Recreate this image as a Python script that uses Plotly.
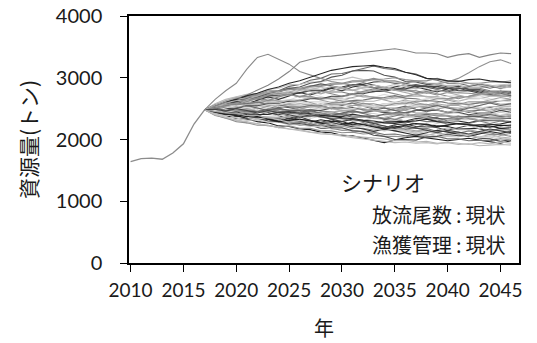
import plotly.graph_objects as go

# Observed stock biomass (tonnes), 2010-2017
hist_years = [2010, 2011, 2012, 2013, 2014, 2015, 2016, 2017]
hist_biomass = [1640, 1690, 1700, 1680, 1780, 1930, 2250, 2480]

# Projection years for the simulated runs
proj_years = list(range(2018, 2047))

# Simulated runs that drift downward
low_runs = [
    [2420, 2390, 2340, 2330, 2290, 2270, 2220, 2210, 2170, 2160, 2120, 2110, 2070, 2060, 2020, 1990, 1950, 1990, 2030, 2050, 2030, 2010, 1980, 2000, 2020, 1990, 1960, 1940, 1980],
    [2400, 2340, 2320, 2270, 2260, 2220, 2210, 2170, 2160, 2120, 2110, 2080, 2080, 2050, 2040, 2020, 2010, 1980, 1990, 1960, 1970, 1940, 1950, 1920, 1930, 1900, 1910, 1920, 1910],
    [2440, 2410, 2370, 2370, 2320, 2320, 2280, 2280, 2230, 2230, 2180, 2180, 2150, 2150, 2120, 2120, 2080, 2090, 2060, 2070, 2040, 2050, 2010, 2010, 1980, 1990, 1980, 2010, 1990],
    [2460, 2420, 2450, 2400, 2390, 2340, 2340, 2370, 2320, 2310, 2270, 2270, 2230, 2280, 2240, 2230, 2190, 2240, 2250, 2210, 2210, 2200, 2240, 2260, 2230, 2240, 2250, 2220, 2240],
    [2390, 2350, 2290, 2270, 2230, 2230, 2190, 2220, 2180, 2180, 2140, 2140, 2110, 2120, 2090, 2100, 2050, 2050, 2040, 2080, 2070, 2100, 2060, 2070, 2070, 2110, 2080, 2080, 2050],
    [2410, 2360, 2350, 2310, 2320, 2280, 2280, 2240, 2240, 2210, 2210, 2170, 2180, 2140, 2140, 2130, 2170, 2140, 2140, 2090, 2090, 2050, 2050, 2040, 2080, 2040, 2040, 2000, 2010],
    [2470, 2440, 2430, 2400, 2390, 2340, 2340, 2290, 2290, 2280, 2320, 2290, 2290, 2240, 2240, 2250, 2300, 2290, 2290, 2250, 2250, 2220, 2210, 2170, 2180, 2180, 2220, 2180, 2190],
    [2430, 2400, 2400, 2360, 2370, 2330, 2330, 2290, 2280, 2240, 2250, 2210, 2220, 2180, 2180, 2150, 2160, 2150, 2190, 2180, 2180, 2130, 2130, 2100, 2140, 2110, 2110, 2070, 2100],
    [2450, 2410, 2400, 2360, 2370, 2370, 2360, 2310, 2300, 2260, 2260, 2220, 2230, 2220, 2260, 2230, 2220, 2170, 2170, 2140, 2150, 2150, 2190, 2160, 2160, 2120, 2150, 2150, 2160],
    [2440, 2400, 2390, 2350, 2350, 2300, 2290, 2250, 2260, 2230, 2230, 2190, 2190, 2140, 2130, 2070, 2050, 2000, 2000, 1990, 2040, 2050, 2090, 2060, 2060, 2020, 2010, 1970, 2000],
]
low_colors = ["#1e1e1e", "#b4b4b4", "#707070", "#404040", "#909090",
              "#c8c8c8", "#222222", "#808080", "#a4a4a4", "#505050"]

# Simulated runs that stay near the current level
mid_runs = [
    [2500, 2530, 2530, 2530, 2490, 2490, 2460, 2460, 2450, 2490, 2460, 2450, 2410, 2440, 2440, 2470, 2430, 2420, 2380, 2410, 2410, 2420, 2380, 2380, 2370, 2410, 2380, 2380, 2360],
    [2520, 2570, 2580, 2610, 2610, 2610, 2560, 2560, 2520, 2520, 2490, 2500, 2460, 2460, 2420, 2420, 2390, 2430, 2440, 2480, 2470, 2470, 2430, 2430, 2390, 2400, 2400, 2440, 2410],
    [2480, 2480, 2450, 2450, 2410, 2410, 2400, 2440, 2410, 2400, 2360, 2370, 2370, 2410, 2380, 2380, 2330, 2330, 2300, 2340, 2340, 2350, 2300, 2300, 2270, 2310, 2310, 2310, 2280],
    [2540, 2580, 2550, 2590, 2590, 2630, 2630, 2620, 2570, 2570, 2530, 2560, 2560, 2600, 2560, 2550, 2510, 2510, 2480, 2520, 2520, 2560, 2520, 2510, 2470, 2480, 2480, 2520, 2490],
    [2460, 2430, 2460, 2460, 2460, 2420, 2420, 2380, 2380, 2370, 2410, 2410, 2420, 2380, 2380, 2340, 2340, 2330, 2370, 2370, 2410, 2380, 2380, 2340, 2380, 2380, 2410, 2370, 2380],
    [2510, 2540, 2500, 2500, 2460, 2460, 2420, 2430, 2390, 2390, 2360, 2360, 2330, 2340, 2310, 2350, 2360, 2400, 2370, 2370, 2330, 2330, 2290, 2320, 2320, 2360, 2330, 2330, 2290],
    [2490, 2510, 2510, 2550, 2550, 2560, 2520, 2520, 2480, 2480, 2470, 2510, 2510, 2520, 2480, 2480, 2440, 2440, 2430, 2470, 2470, 2480, 2440, 2440, 2400, 2430, 2430, 2470, 2440],
    [2470, 2490, 2490, 2500, 2460, 2500, 2500, 2540, 2540, 2550, 2510, 2510, 2470, 2470, 2430, 2460, 2460, 2500, 2500, 2540, 2540, 2580, 2550, 2550, 2510, 2510, 2530, 2530, 2540],
    [2450, 2420, 2420, 2420, 2460, 2460, 2460, 2420, 2420, 2380, 2380, 2340, 2340, 2300, 2310, 2270, 2270, 2280, 2280, 2320, 2290, 2290, 2250, 2260, 2260, 2300, 2300, 2310, 2270],
    [2530, 2560, 2570, 2610, 2570, 2570, 2530, 2570, 2570, 2610, 2610, 2590, 2590, 2550, 2550, 2510, 2550, 2550, 2590, 2550, 2550, 2510, 2510, 2510, 2550, 2550, 2590, 2550, 2560],
    [2500, 2500, 2460, 2460, 2450, 2490, 2490, 2470, 2470, 2430, 2430, 2390, 2400, 2360, 2370, 2370, 2410, 2410, 2420, 2380, 2380, 2340, 2340, 2330, 2370, 2370, 2350, 2350, 2340],
    [2480, 2450, 2490, 2490, 2530, 2530, 2570, 2570, 2580, 2540, 2540, 2500, 2500, 2500, 2540, 2540, 2580, 2580, 2610, 2570, 2570, 2530, 2570, 2570, 2610, 2610, 2610, 2570, 2580],
    [2490, 2520, 2520, 2560, 2560, 2600, 2600, 2640, 2640, 2680, 2680, 2660, 2660, 2620, 2620, 2620, 2660, 2660, 2700, 2700, 2700, 2660, 2660, 2620, 2660, 2660, 2700, 2700, 2710],
    [2470, 2500, 2500, 2540, 2540, 2580, 2580, 2620, 2620, 2660, 2660, 2700, 2700, 2740, 2740, 2780, 2780, 2820, 2820, 2860, 2860, 2860, 2830, 2830, 2790, 2790, 2750, 2750, 2710],
    [2500, 2470, 2470, 2430, 2430, 2450, 2450, 2490, 2490, 2530, 2530, 2570, 2570, 2550, 2550, 2510, 2510, 2470, 2470, 2430, 2430, 2390, 2390, 2350, 2350, 2310, 2350, 2350, 2390],
    [2520, 2550, 2570, 2590, 2600, 2570, 2560, 2530, 2520, 2550, 2560, 2590, 2600, 2630, 2640, 2670, 2680, 2710, 2670, 2660, 2630, 2620, 2590, 2580, 2570, 2590, 2600, 2630, 2640],
    [2450, 2480, 2490, 2520, 2530, 2560, 2570, 2600, 2610, 2580, 2570, 2540, 2530, 2500, 2540, 2550, 2580, 2590, 2620, 2630, 2660, 2670, 2700, 2710, 2680, 2670, 2640, 2630, 2610],
    [2440, 2410, 2400, 2370, 2400, 2410, 2440, 2450, 2430, 2420, 2390, 2380, 2350, 2340, 2310, 2300, 2270, 2260, 2290, 2300, 2330, 2290, 2280, 2250, 2240, 2210, 2240, 2250, 2290],
    [2510, 2560, 2590, 2640, 2670, 2720, 2740, 2720, 2700, 2700, 2660, 2660, 2620, 2620, 2580, 2580, 2540, 2580, 2580, 2620, 2620, 2660, 2660, 2690, 2700, 2740, 2740, 2780, 2750],
    [2460, 2430, 2430, 2390, 2390, 2350, 2350, 2370, 2380, 2410, 2420, 2450, 2460, 2490, 2500, 2470, 2460, 2430, 2420, 2390, 2380, 2410, 2420, 2450, 2460, 2430, 2420, 2390, 2410],
]
mid_colors = ["#888888", "#cccccc", "#303030", "#9a9a9a", "#6e6e6e",
              "#bdbdbd", "#4a4a4a", "#a8a8a8", "#7a7a7a", "#d4d4d4",
              "#5e5e5e", "#959595", "#b4b4b4", "#464646", "#9e9e9e",
              "#767676", "#dadada", "#262626", "#8e8e8e", "#acacac"]

# Simulated runs that grow above the current level
high_runs = [
    [2560, 2630, 2670, 2710, 2710, 2750, 2750, 2760, 2760, 2800, 2800, 2770, 2770, 2730, 2770, 2770, 2810, 2810, 2790, 2790, 2750, 2790, 2790, 2830, 2830, 2830, 2790, 2790, 2780],
    [2580, 2650, 2690, 2730, 2730, 2770, 2770, 2810, 2810, 2800, 2800, 2760, 2800, 2800, 2840, 2840, 2850, 2810, 2810, 2830, 2830, 2870, 2870, 2880, 2840, 2840, 2860, 2860, 2890],
    [2540, 2600, 2610, 2660, 2670, 2710, 2710, 2750, 2750, 2790, 2790, 2840, 2850, 2890, 2890, 2930, 2940, 2910, 2910, 2870, 2870, 2830, 2830, 2790, 2790, 2750, 2750, 2710, 2710],
    [2520, 2570, 2590, 2640, 2650, 2700, 2700, 2740, 2690, 2690, 2650, 2690, 2690, 2730, 2690, 2690, 2650, 2690, 2690, 2730, 2690, 2690, 2650, 2690, 2690, 2730, 2730, 2710, 2700],
    [2550, 2610, 2630, 2670, 2690, 2760, 2790, 2860, 2890, 2960, 2990, 3060, 3070, 3110, 3140, 3190, 3150, 3130, 3090, 3060, 2990, 2960, 2910, 2910, 2870, 2870, 2830, 2870, 2850],
    [2570, 2640, 2680, 2730, 2750, 2810, 2830, 2890, 2890, 2930, 2930, 2970, 2970, 3010, 2970, 2970, 2930, 2930, 2890, 2890, 2910, 2910, 2950, 2910, 2910, 2870, 2870, 2890, 2900],
    [2530, 2580, 2600, 2660, 2680, 2740, 2770, 2830, 2850, 2910, 2940, 3010, 3040, 3110, 3120, 3110, 3040, 3010, 2940, 2930, 2890, 2890, 2850, 2850, 2810, 2810, 2770, 2770, 2740],
    [2560, 2610, 2640, 2710, 2730, 2790, 2790, 2830, 2830, 2870, 2870, 2910, 2910, 2950, 2950, 2990, 2950, 2950, 2910, 2950, 2950, 2990, 2950, 2950, 2910, 2910, 2930, 2930, 2950],
    [2650, 2790, 2910, 3140, 3330, 3380, 3300, 3220, 3100, 3040, 2990, 2940, 2910, 2880, 2870, 2840, 2840, 2800, 2800, 2760, 2760, 2720, 2760, 2760, 2750, 2730, 2720, 2700, 2690],
    [2560, 2600, 2650, 2720, 2800, 2880, 2980, 3100, 3250, 3300, 3340, 3350, 3370, 3380, 3400, 3420, 3440, 3470, 3440, 3400, 3400, 3390, 3330, 3370, 3390, 3330, 3370, 3400, 3390],
    [2540, 2590, 2640, 2690, 2720, 2760, 2780, 2810, 2820, 2850, 2860, 2890, 2900, 2930, 2940, 2970, 2980, 3000, 2970, 2950, 2910, 2900, 2930, 2990, 3080, 3180, 3260, 3290, 3230],
    [2550, 2610, 2650, 2710, 2750, 2810, 2850, 2910, 2950, 3010, 3060, 3120, 3150, 3180, 3190, 3200, 3170, 3150, 3090, 3050, 2990, 2980, 2950, 2940, 2970, 2980, 2950, 2940, 2920],
]
high_colors = ["#7c7c7c", "#b8b8b8", "#3a3a3a", "#a4a4a4", "#686868", "#c0c0c0",
               "#555555", "#8c8c8c", "#8a8a8a", "#858585", "#909090", "#2a2a2a"]

# Simulated runs with larger year-to-year swings
spread_runs = [
    [2500, 2560, 2610, 2650, 2700, 2680, 2740, 2790, 2750, 2810, 2850, 2800, 2830, 2870, 2820, 2780, 2830, 2860, 2810, 2760, 2800, 2850, 2800, 2760, 2790, 2840, 2870, 2820, 2860],
    [2470, 2430, 2480, 2420, 2390, 2440, 2380, 2330, 2370, 2310, 2280, 2320, 2260, 2230, 2270, 2210, 2180, 2220, 2160, 2200, 2240, 2190, 2150, 2190, 2230, 2170, 2140, 2180, 2150],
    [2510, 2580, 2550, 2620, 2660, 2610, 2680, 2640, 2700, 2740, 2690, 2650, 2710, 2670, 2620, 2680, 2730, 2690, 2640, 2600, 2650, 2700, 2660, 2620, 2670, 2710, 2660, 2620, 2650],
    [2490, 2540, 2500, 2560, 2610, 2570, 2530, 2590, 2640, 2600, 2550, 2500, 2550, 2590, 2540, 2490, 2450, 2500, 2540, 2490, 2450, 2490, 2530, 2480, 2440, 2480, 2520, 2470, 2500],
    [2430, 2390, 2420, 2370, 2330, 2360, 2310, 2280, 2320, 2270, 2240, 2280, 2230, 2200, 2240, 2190, 2160, 2200, 2150, 2120, 2160, 2110, 2080, 2120, 2070, 2040, 2080, 2040, 2020],
    [2520, 2560, 2610, 2580, 2640, 2690, 2650, 2710, 2760, 2720, 2780, 2830, 2790, 2850, 2880, 2840, 2800, 2850, 2890, 2850, 2810, 2770, 2820, 2860, 2810, 2770, 2730, 2780, 2760],
    [2460, 2500, 2470, 2520, 2480, 2530, 2570, 2530, 2490, 2540, 2580, 2540, 2500, 2550, 2590, 2550, 2510, 2470, 2520, 2560, 2520, 2480, 2440, 2490, 2530, 2490, 2450, 2500, 2470],
    [2480, 2440, 2470, 2430, 2460, 2420, 2380, 2420, 2380, 2340, 2380, 2340, 2300, 2340, 2300, 2260, 2300, 2340, 2300, 2260, 2220, 2260, 2300, 2260, 2220, 2180, 2220, 2260, 2230],
    [2550, 2600, 2650, 2700, 2670, 2730, 2780, 2830, 2800, 2860, 2900, 2870, 2830, 2880, 2920, 2880, 2840, 2800, 2850, 2890, 2850, 2810, 2770, 2820, 2860, 2900, 2870, 2830, 2880],
    [2500, 2540, 2590, 2560, 2610, 2660, 2620, 2580, 2630, 2680, 2640, 2600, 2640, 2680, 2720, 2680, 2640, 2600, 2640, 2600, 2560, 2600, 2640, 2600, 2560, 2600, 2640, 2680, 2650],
    [2450, 2410, 2380, 2420, 2370, 2330, 2300, 2340, 2300, 2260, 2230, 2270, 2240, 2200, 2170, 2130, 2170, 2140, 2100, 2070, 2110, 2150, 2120, 2080, 2050, 2090, 2130, 2100, 2130],
    [2530, 2590, 2640, 2610, 2670, 2720, 2770, 2740, 2790, 2840, 2810, 2860, 2830, 2790, 2840, 2880, 2850, 2890, 2860, 2820, 2860, 2900, 2870, 2830, 2870, 2910, 2880, 2840, 2870],
    [2480, 2520, 2490, 2450, 2490, 2530, 2500, 2460, 2420, 2460, 2420, 2380, 2420, 2460, 2420, 2380, 2340, 2380, 2420, 2380, 2340, 2300, 2340, 2380, 2340, 2300, 2260, 2300, 2280],
    [2470, 2510, 2550, 2520, 2480, 2520, 2560, 2600, 2570, 2530, 2570, 2610, 2650, 2610, 2570, 2530, 2570, 2610, 2570, 2530, 2490, 2530, 2570, 2610, 2570, 2530, 2490, 2530, 2510],
    [2450, 2420, 2380, 2350, 2370, 2330, 2290, 2310, 2330, 2300, 2260, 2230, 2250, 2270, 2240, 2200, 2170, 2200, 2230, 2260, 2240, 2210, 2230, 2260, 2240, 2220, 2200, 2230, 2220],
    [2540, 2600, 2560, 2620, 2670, 2630, 2690, 2730, 2690, 2740, 2780, 2740, 2700, 2740, 2780, 2820, 2780, 2740, 2700, 2740, 2780, 2740, 2700, 2660, 2700, 2740, 2780, 2740, 2720],
    [2420, 2380, 2410, 2360, 2330, 2360, 2320, 2280, 2310, 2270, 2230, 2260, 2220, 2190, 2220, 2180, 2140, 2170, 2130, 2100, 2130, 2090, 2060, 2090, 2060, 2030, 2060, 2030, 2000],
    [2510, 2470, 2510, 2550, 2510, 2470, 2510, 2470, 2430, 2470, 2430, 2390, 2430, 2470, 2430, 2470, 2510, 2470, 2430, 2470, 2510, 2550, 2510, 2470, 2510, 2550, 2590, 2550, 2580],
    [2560, 2620, 2680, 2650, 2710, 2760, 2720, 2770, 2820, 2780, 2740, 2790, 2840, 2800, 2760, 2800, 2840, 2800, 2760, 2720, 2760, 2800, 2760, 2720, 2680, 2720, 2760, 2720, 2690],
    [2490, 2460, 2500, 2470, 2430, 2470, 2440, 2400, 2360, 2400, 2370, 2330, 2290, 2330, 2300, 2260, 2220, 2180, 2220, 2190, 2150, 2110, 2150, 2120, 2090, 2130, 2170, 2140, 2110],
    [2400, 2360, 2310, 2290, 2250, 2230, 2190, 2170, 2140, 2120, 2090, 2080, 2050, 2030, 2010, 1990, 1970, 1950, 1960, 1940, 1950, 1930, 1960, 1940, 1920, 1950, 1930, 1960, 1940],
]
spread_colors = ["#c4c4c4", "#4e4e4e", "#dcdcdc", "#6a6a6a", "#b0b0b0", "#363636",
                 "#9c9c9c", "#d0d0d0", "#5c5c5c", "#a0a0a0", "#303030", "#bababa",
                 "#7e7e7e", "#e0e0e0", "#1c1c1c", "#8a8a8a", "#c6c6c6", "#646464",
                 "#ababab", "#444444", "#bcbcbc"]

x_ticks = [2010, 2015, 2020, 2025, 2030, 2035, 2040, 2045]
y_ticks = [0, 1000, 2000, 3000, 4000]

groups = [(mid_runs, mid_colors), (spread_runs, spread_colors),
          (low_runs, low_colors), (high_runs, high_colors)]
all_runs = []
all_colors = []
# interleave groups so dark and light lines overlap naturally
for i in range(max(len(g[0]) for g in groups)):
    for runs, cols in groups:
        if i < len(runs):
            all_runs.append(runs[i])
            all_colors.append(cols[i])

fig = go.Figure()

for run, col in zip(all_runs, all_colors):
    fig.add_trace(go.Scatter(
        x=[hist_years[-1]] + proj_years[:len(run)],
        y=[hist_biomass[-1]] + run,
        mode="lines",
        line=dict(color=col, width=1.1),
        hoverinfo="skip",
    ))

fig.add_trace(go.Scatter(
    x=hist_years, y=hist_biomass, mode="lines",
    line=dict(color="#8c8c8c", width=1.3),
))

num_font = dict(family="Lato, 'Open Sans', sans-serif", size=19, color="#1a1a1a")
jp_font = dict(family="'Noto Sans CJK JP', sans-serif", size=20, color="#1a1a1a")
note_font = dict(family="'Noto Sans CJK JP', sans-serif", size=20, color="#1a1a1a")

fig.update_layout(
    width=537, height=343,
    margin=dict(l=129, r=18, t=16, b=80),
    paper_bgcolor="white", plot_bgcolor="white",
    showlegend=False,
    xaxis=dict(
        range=[2009.85, 2046.75], automargin=False,
        tickmode="array", tickvals=x_ticks, ticktext=[str(v) for v in x_ticks],
        ticks="outside", ticklen=7, tickwidth=1.2, tickcolor="black",
        showline=True, linecolor="black", linewidth=1.5, mirror=True,
        showgrid=False, zeroline=False,
        tickfont=num_font, ticklabelstandoff=2,
        title=dict(text="年", font=jp_font, standoff=22),
    ),
    yaxis=dict(
        range=[0, 4000], automargin=False,
        tickmode="array", tickvals=y_ticks, ticktext=[str(v) for v in y_ticks],
        ticks="outside", ticklen=7, tickwidth=1.2, tickcolor="black",
        showline=True, linecolor="black", linewidth=1.5, mirror=True,
        showgrid=False, zeroline=False,
        tickfont=dict(num_font, size=20), ticklabelstandoff=14,
        title=dict(text="資源量(トン)", font=dict(jp_font, size=21), standoff=12),
    ),
    annotations=[
        dict(text="シナリオ", xref="paper", yref="paper", x=0.538, y=0.328,
             xanchor="left", yanchor="middle", showarrow=False,
             font=dict(note_font, size=21)),
        dict(text="放流尾数\u2009:\u2009現状", xref="paper", yref="paper", x=0.972, y=0.198,
             xanchor="right", yanchor="middle", showarrow=False, font=note_font),
        dict(text="漁獲管理\u2009:\u2009現状", xref="paper", yref="paper", x=0.972, y=0.073,
             xanchor="right", yanchor="middle", showarrow=False, font=note_font),
    ],
)

fig.write_html("out.html")
